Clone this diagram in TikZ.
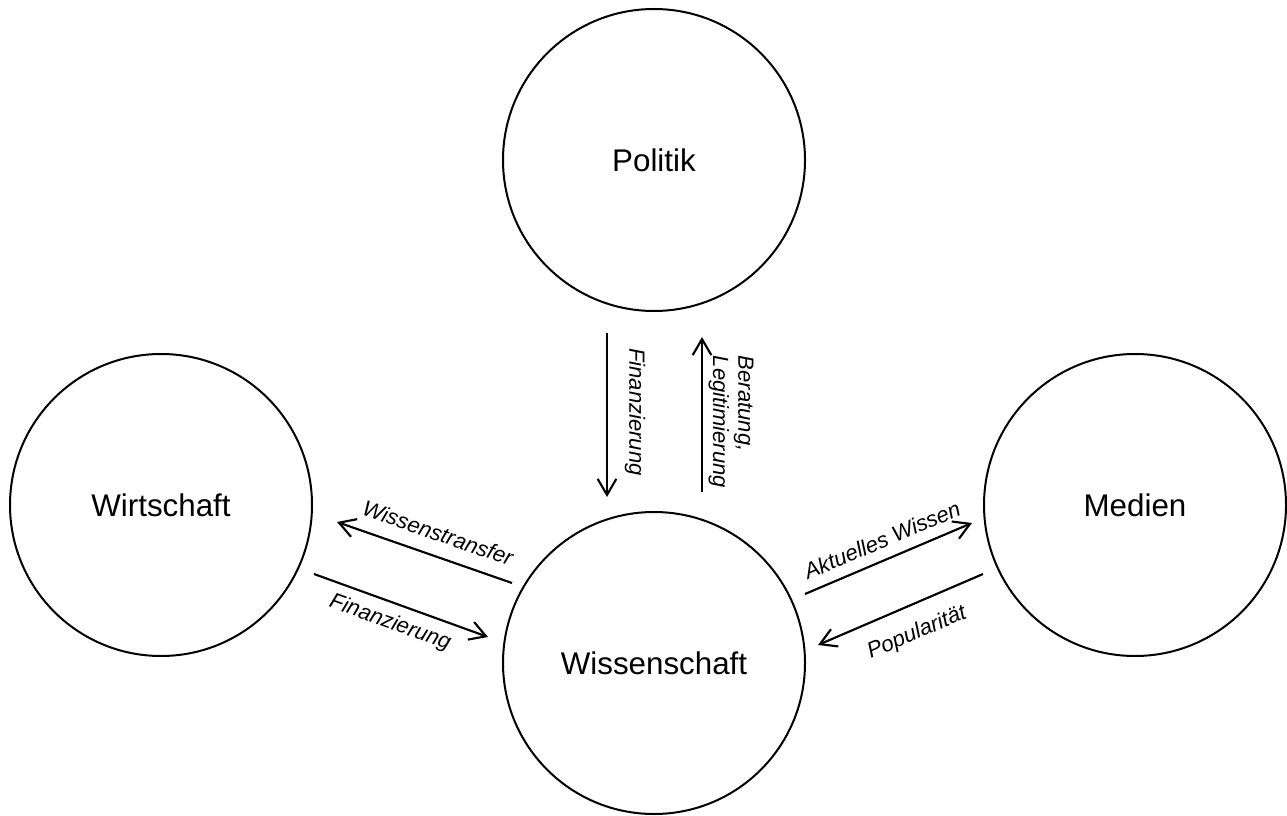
\documentclass[tikz,border=0pt]{standalone}
\usepackage{fontspec}
\setmainfont{Liberation Sans}
\usetikzlibrary{arrows.meta}
\tikzset{
  sphere/.style={draw, circle, line width=1.5pt, minimum size=226.5pt, inner sep=0pt,
    font=\fontsize{23.5}{28}\selectfont},
  flow/.style={line width=1.6pt, -{Straight Barb[length=12pt,width=14pt,line width=1.6pt]}},
  flowlabel/.style={font=\fontsize{16.5}{19}\selectfont\itshape, inner sep=1pt}
}
\begin{document}
\begin{tikzpicture}[x=0.75pt,y=-0.75pt]
\useasboundingbox (0,0) rectangle (1287,816);
% circles
\node[sphere] (pol) at (654,160) {Politik};
\node[sphere] (wir) at (161,505) {Wirtschaft};
\node[sphere] (wis) at (654,663) {Wissenschaft};
\node[sphere] (med) at (1135,505) {Medien};
% arrow end points
\coordinate (f1s) at (607,333);
\coordinate (f1e) at (607,497);
\coordinate (bls) at (702,492);
\coordinate (ble) at (702,337);
\coordinate (wts) at (512,583);
\coordinate (wte) at (337,522);
\coordinate (fws) at (314,574);
\coordinate (fwe) at (488,637);
\coordinate (aws) at (805,594);
\coordinate (awe) at (972,523);
\coordinate (pps) at (983,574);
\coordinate (ppe) at (818,645);
% arrows
\draw[flow] (f1s) -- (f1e);
\draw[flow] (bls) -- (ble);
\draw[flow] (wts) -- (wte);
\draw[flow] (fws) -- (fwe);
\draw[flow] (aws) -- (awe);
\draw[flow] (pps) -- (ppe);
% labels
\node[flowlabel, rotate=-90] (lf1) at (635,412) {Finanzierung};
\node[flowlabel, rotate=-90, align=left] (lbl) at (731,422) {Beratung,\\Legitimierung};
\node[flowlabel, rotate=-19.2] (lwt) at (438,533) {Wissenstransfer};
\node[flowlabel, rotate=-20] (lfw) at (390,623) {Finanzierung};
\node[flowlabel, rotate=23] (law) at (882,540) {Aktuelles Wissen};
\node[flowlabel, rotate=23] (lpp) at (917,633) {Popularität};
\end{tikzpicture}
\end{document}
